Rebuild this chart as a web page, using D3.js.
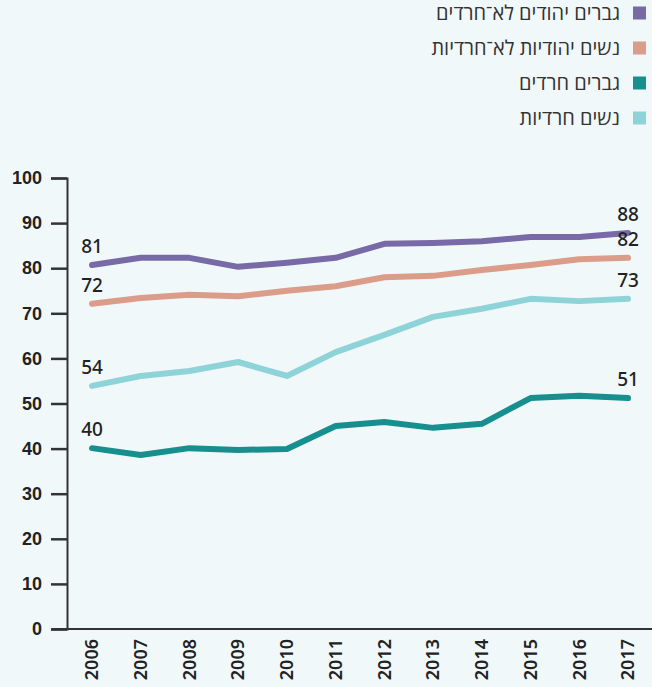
<!DOCTYPE html>
<html>
<head>
<meta charset="utf-8">
<script src="https://cdn.jsdelivr.net/npm/d3@7"></script>
<style>
  html, body { margin: 0; padding: 0; background: #f1f8fa; }
  svg { display: block; font-family: "Noto Sans", "Open Sans", "DejaVu Sans", sans-serif; }
</style>
</head>
<body>
<div id="chart"></div>
<script>
// values (percent)
const years = [2006, 2007, 2008, 2009, 2010, 2011, 2012, 2013, 2014, 2015, 2016, 2017];
const jewishMen   = [80.7, 82.3, 82.3, 80.3, 81.2, 82.3, 85.4, 85.6, 86.0, 86.9, 86.9, 87.8];
const jewishWomen = [72.1, 73.4, 74.1, 73.8, 75.0, 76.0, 78.0, 78.3, 79.6, 80.7, 82.0, 82.3];
const haredimMen  = [40.1, 38.6, 40.1, 39.7, 39.9, 45.0, 45.9, 44.6, 45.5, 51.2, 51.7, 51.2];
const haredimWomen= [53.9, 56.1, 57.2, 59.2, 56.1, 61.4, 65.2, 69.2, 71.0, 73.2, 72.7, 73.2];
const yTicks = [0, 10, 20, 30, 40, 50, 60, 70, 80, 90, 100];

const seriesNames = ["גברים יהודים לא־חרדים", "נשים יהודיות לא־חרדיות", "גברים חרדים", "נשים חרדיות"];
const seriesColors = ["#776aa6", "#db9c89", "#168f8e", "#8dd3d8"];
const seriesValues = [jewishMen, jewishWomen, haredimMen, haredimWomen];
// start / end labels shown on the chart
const startLabels = ["81", "72", "40", "54"];
const endLabels = ["88", "82", "51", "73"];

const width = 652, height = 687;
const margin = {top: 178, right: 24, bottom: 58, left: 67};

const svg = d3.select("#chart").append("svg")
  .attr("width", width)
  .attr("height", height);

const x = d3.scalePoint()
  .domain(years)
  .range([92, 628]);

const y = d3.scaleLinear()
  .domain([0, 100])
  .range([height - margin.bottom, margin.top]);

// legend (right aligned, RTL)
const legend = svg.append("g");
seriesNames.forEach((name, i) => {
  const ly = 13 + i * 35;
  legend.append("rect")
    .attr("x", 633).attr("y", ly - 6.5)
    .attr("width", 13).attr("height", 13)
    .attr("fill", seriesColors[i]);
  legend.append("text")
    .attr("x", 620).attr("y", ly)
    .attr("dy", "0.35em")
    .attr("text-anchor", "end")
    .attr("fill", "#333")
    .style("font-size", "20px")
    .text(name);
});

// y axis
const yAxis = svg.append("g")
  .attr("transform", `translate(${margin.left},0)`)
  .call(d3.axisLeft(y).tickValues(yTicks).tickSize(16).tickPadding(9));
yAxis.select(".domain").attr("stroke", "#333").attr("stroke-width", 2);
yAxis.selectAll(".tick line").attr("stroke", "#333").attr("stroke-width", 2.5);
yAxis.selectAll(".tick text")
  .attr("fill", "#222")
  .style("font-size", "18px")
  .style("font-weight", "600");

// x axis line
svg.append("line")
  .attr("x1", 52).attr("x2", width)
  .attr("y1", y(0)).attr("y2", y(0))
  .attr("stroke", "#333").attr("stroke-width", 2);

// x labels (rotated)
svg.append("g").selectAll("text")
  .data(years)
  .join("text")
  .attr("transform", d => `translate(${x(d)},${y(0) + 10}) rotate(-90)`)
  .attr("text-anchor", "end")
  .attr("dy", "0.35em")
  .attr("fill", "#222")
  .style("font-size", "18px")
  .style("font-weight", "600")
  .text(d => d);

// lines
const line = d3.line()
  .x((d, i) => x(years[i]))
  .y(d => y(d));

svg.append("g").selectAll("path")
  .data(seriesValues)
  .join("path")
  .attr("d", d => line(d))
  .attr("fill", "none")
  .attr("stroke", (d, i) => seriesColors[i])
  .attr("stroke-width", 6)
  .attr("stroke-linecap", "round")
  .attr("stroke-linejoin", "round");

// value labels at start and end
const labels = svg.append("g")
  .attr("fill", "#222")
  .style("font-size", "19px")
  .style("font-weight", "500")
  .attr("text-anchor", "middle");
seriesValues.forEach((vals, i) => {
  labels.append("text")
    .attr("x", x(years[0]))
    .attr("y", y(vals[0]) - 12)
    .text(startLabels[i]);
  labels.append("text")
    .attr("x", x(years[years.length - 1]))
    .attr("y", y(vals[vals.length - 1]) - 12)
    .text(endLabels[i]);
});
</script>
</body>
</html>
